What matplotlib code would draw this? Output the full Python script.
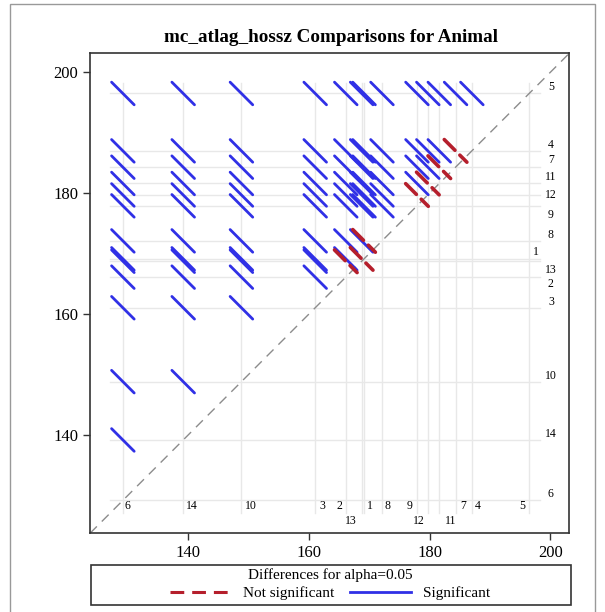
import matplotlib
matplotlib.use("Agg")
import matplotlib.pyplot as plt
from matplotlib.lines import Line2D
from matplotlib.patches import Rectangle

plt.rcParams["font.family"] = ["Liberation Serif", "DejaVu Serif"]

# group means (LS-means of mc_atlag_hossz by Animal)
groups = ["1", "2", "3", "4", "5", "6", "7", "8", "9", "10", "11", "12", "13", "14"]
means = [169.13, 166.1, 161.03, 187.0, 196.5, 129.15, 184.3, 172.1, 177.9, 148.8, 181.6, 179.7, 168.73, 139.15]
# pairs whose difference is not significant at alpha=0.05
nonsig_pairs = [("9", "12"), ("12", "11"), ("11", "7"), ("7", "4"), ("2", "13"), ("13", "1"), ("1", "8")]
ci_width = 3.75   # width of the difference confidence interval

BLUE = "#3030E6"; RED = "#B51F2C"; GREY = "#8C8C8C"; REF = "#E8E8E8"

m = dict(zip(groups, means))
lo, hi = 123.7, 203.15
ref_lo, ref_hi = 127.0, 198.3

fig = plt.figure(figsize=(6.05, 6.12), dpi=100)
ax = fig.add_axes([90/605, 1 - 533.3/612, 479.3/605, 480/612])
ax.set_xlim(lo, hi); ax.set_ylim(lo, hi)

# reference lines at every group mean
for g in groups:
    ax.plot([m[g], m[g]], [ref_lo, ref_hi], color=REF, lw=1, zorder=1)
    ax.plot([ref_lo, ref_hi], [m[g], m[g]], color=REF, lw=1, zorder=1)

ax.plot([lo, hi], [lo, hi], color=GREY, lw=1, dashes=(7, 5), zorder=2)

ns = {frozenset(p) for p in nonsig_pairs}
segs = []
for i, a in enumerate(groups):
    for b in groups[i+1:]:
        x0, y0 = sorted([m[a], m[b]])
        h = ci_width / 2
        segs.append((frozenset((a, b)) in ns, [x0 - h, x0 + h], [y0 + h, y0 - h]))
for bad, xs, ys in segs:
    if not bad:
        ax.plot(xs, ys, color=BLUE, lw=2, solid_capstyle="round", zorder=3)
for bad, xs, ys in segs:
    if bad:
        ax.plot(xs, ys, color=RED, lw=2.6, dashes=(4.2, 1.9), dash_capstyle="round", zorder=4)

# group labels along the bottom and the right side
bot_dx = {"6": .8, "14": 1.5, "10": 1.5, "3": 1.15, "2": -1.1, "13": -1.8, "1": 1.0, "8": .9,
          "9": -1.3, "12": -1.5, "11": 1.8, "7": 1.3, "4": 1.0, "5": -1.15}
second_row = {"13", "12", "11"}
right_dy = {g: 1.0 for g in groups}
right_dy.update({"12": 0.0, "9": -1.45, "13": -1.4, "2": -1.2, "7": 1.25, "11": 1.15, "1": 1.2})
for g in groups:
    ax.text(m[g] + bot_dx[g], 125.8 if g in second_row else 128.2, g, ha="center", va="center", fontsize=8.5)
    ax.text(197.6 if g == "1" else 200.1, m[g] + right_dy[g], g, ha="center", va="center", fontsize=8.5)

ax.set_xticks([140, 160, 180, 200]); ax.set_yticks([140, 160, 180, 200])
ax.tick_params(labelsize=12, length=5, width=1, direction="out", color="#333333")
for s in ax.spines.values():
    s.set_color("#333333"); s.set_linewidth(1.2)
fig.text(331/605, 1 - 37/612, "mc_atlag_hossz Comparisons for Animal", ha="center", va="center",
         fontsize=13.8, fontweight="bold")

# legend box
fig.patches.append(Rectangle((91/605, 1 - 605/612), 480/605, 40/612, transform=fig.transFigure,
                             fill=False, edgecolor="#333333", lw=1.2))
fig.text(330/605, 1 - 575/612, "Differences for alpha=0.05", ha="center", va="center", fontsize=11)
handles = [Line2D([], [], color=RED, lw=2.2, dashes=(4.5, 2.6)),
           Line2D([], [], color=BLUE, lw=2)]
fig.legend(handles, ["Not significant", "Significant"], loc="center", ncol=2, frameon=False,
           bbox_to_anchor=(330/605, 1 - 593/612), fontsize=11, handlelength=4, handletextpad=0.8,
           columnspacing=1.0, borderpad=0, borderaxespad=0)

# outer frame
fig.patches.append(Rectangle((10/605, -0.01), 585/605, 1 - 4/612 + 0.01, transform=fig.transFigure,
                             fill=False, edgecolor="#999999", lw=1))

fig.savefig("out.png", dpi=100)
